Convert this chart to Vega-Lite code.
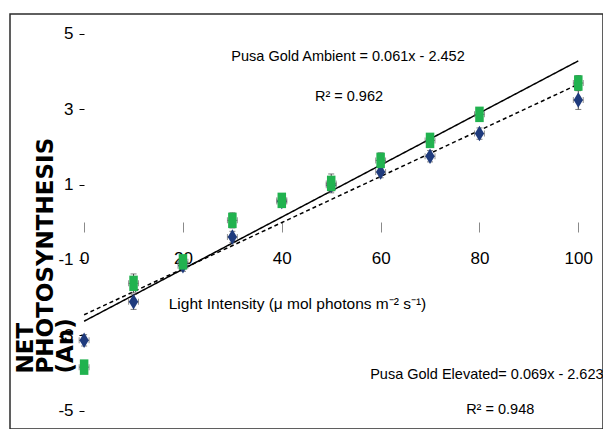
{
  "$schema": "https://vega.github.io/schema/vega-lite/v6.json",
  "width": 593,
  "height": 415,
  "autosize": {"type": "none"},
  "padding": {"left": 10, "top": 14, "right": 0, "bottom": 0},
  "background": "white",
  "config": {
    "view": {"stroke": "#2b2b2b", "strokeWidth": 1.5},
    "font": "Liberation Sans",
    "axis": {"grid": false}
  },
  "datasets": {
    "points": [
      {"series": "Ambient", "x": 0, "y": -3.13, "e": 0.15, "xe": 1},
      {"series": "Ambient", "x": 10, "y": -2.11, "e": 0.2, "xe": 1},
      {"series": "Ambient", "x": 20, "y": -1.15, "e": 0.15, "xe": 1},
      {"series": "Ambient", "x": 30, "y": -0.39, "e": 0.15, "xe": 1},
      {"series": "Ambient", "x": 40, "y": 0.55, "e": 0.15, "xe": 1},
      {"series": "Ambient", "x": 50, "y": 0.98, "e": 0.15, "xe": 1},
      {"series": "Ambient", "x": 60, "y": 1.33, "e": 0.15, "xe": 1},
      {"series": "Ambient", "x": 70, "y": 1.75, "e": 0.15, "xe": 1},
      {"series": "Ambient", "x": 80, "y": 2.35, "e": 0.15, "xe": 1},
      {"series": "Ambient", "x": 100, "y": 3.24, "e": 0.25, "xe": 1},
      {"series": "Elevated", "x": 0, "y": -3.84, "e": 0.15, "xe": 1},
      {"series": "Elevated", "x": 10, "y": -1.62, "e": 0.25, "xe": 1},
      {"series": "Elevated", "x": 20, "y": -1.05, "e": 0.15, "xe": 1},
      {"series": "Elevated", "x": 30, "y": 0.05, "e": 0.2, "xe": 1},
      {"series": "Elevated", "x": 40, "y": 0.58, "e": 0.15, "xe": 1},
      {"series": "Elevated", "x": 50, "y": 1.03, "e": 0.25, "xe": 1},
      {"series": "Elevated", "x": 60, "y": 1.64, "e": 0.2, "xe": 1},
      {"series": "Elevated", "x": 70, "y": 2.17, "e": 0.15, "xe": 1},
      {"series": "Elevated", "x": 80, "y": 2.86, "e": 0.15, "xe": 1},
      {"series": "Elevated", "x": 100, "y": 3.69, "e": 0.2, "xe": 1}
    ],
    "trend": [
      {"series": "Ambient", "x": 0, "y": -2.452},
      {"series": "Ambient", "x": 100, "y": 3.658},
      {"series": "Elevated", "x": 0, "y": -2.623},
      {"series": "Elevated", "x": 100, "y": 4.277}
    ],
    "notes": [
      {"label": "Pusa Gold Ambient = 0.061x - 2.452", "x": 53.4, "y": 4.38},
      {"label": "R² = 0.962", "x": 53.6, "y": 3.32},
      {"label": "Pusa Gold Elevated= 0.069x - 2.623", "x": 81.5, "y": -4.05},
      {"label": "R² = 0.948", "x": 84.2, "y": -4.98}
    ]
  },
  "layer": [
    {
      "data": {"name": "points"},
      "mark": {"type": "point", "opacity": 0},
      "encoding": {
        "x": {
          "field": "x", "type": "quantitative",
          "title": "Light Intensity (μ mol photons m⁻² s⁻¹)",
          "scale": {"domain": [-15, 105], "nice": false, "zero": false},
          "axis": {
            "values": [0, 20, 40, 60, 80, 100],
            "offset": -207,
            "domain": false,
            "tickSize": 10,
            "tickColor": "#8a8a8a",
            "labelPadding": 18,
            "labelFontSize": 17,
            "labelColor": "black",
            "labelOverlap": false,
            "labelFlush": false,
            "titleFontSize": 15.5,
            "titleFontWeight": "normal",
            "titleColor": "black",
            "titleX": 287,
            "titleY": 81,
            "titleBaseline": "middle"
          }
        },
        "y": {
          "field": "y", "type": "quantitative",
          "title": ["NET", "PHOTOSYNTHESIS", "(An)"],
          "scale": {"domain": [-5.48, 5.52], "nice": false, "zero": false},
          "axis": {
            "values": [-5, -3, -1, 1, 3, 5],
            "labelExpr": "replace(datum.label, '−', '-')",
            "offset": -74,
            "domain": false,
            "tickSize": 5,
            "tickColor": "black",
            "labelPadding": 6,
            "labelFontSize": 17,
            "labelColor": "black",
            "labelOverlap": false,
            "labelFlush": false,
            "titleFont": "DejaVu Sans",
            "titleFontWeight": "bold",
            "titleFontSize": 23,
            "titleLineHeight": 20,
            "titleColor": "black",
            "titleAngle": 270,
            "titleAlign": "left",
            "titleBaseline": "top",
            "titleX": -70,
            "titleY": 359
          }
        }
      }
    },
    {
      "mark": {"type": "rule", "color": "black", "strokeWidth": 2},
      "encoding": {
        "x": {"datum": 0, "type": "quantitative"},
        "x2": {"datum": 100},
        "y": {"datum": 0, "type": "quantitative"}
      }
    },
    {
      "mark": {"type": "rule", "color": "black", "strokeWidth": 1.5},
      "encoding": {
        "x": {"datum": 0, "type": "quantitative"},
        "y": {"datum": -5, "type": "quantitative"},
        "y2": {"datum": 5}
      }
    },
    {
      "data": {"name": "trend"},
      "mark": {"type": "line", "color": "black", "strokeWidth": 1.5},
      "encoding": {
        "x": {"field": "x", "type": "quantitative", "title": "Light Intensity (μ mol photons m⁻² s⁻¹)"},
        "y": {"field": "y", "type": "quantitative", "title": ["NET", "PHOTOSYNTHESIS", "(An)"]},
        "detail": {"field": "series"},
        "strokeDash": {
          "field": "series", "type": "nominal",
          "scale": {"domain": ["Ambient", "Elevated"], "range": [[4, 3], [1, 0]]},
          "legend": null
        }
      }
    },
    {
      "data": {"name": "points"},
      "mark": {"type": "errorbar", "color": "#444", "thickness": 1, "ticks": {"size": 6, "color": "#444"}},
      "encoding": {
        "x": {"field": "x", "type": "quantitative", "title": "Light Intensity (μ mol photons m⁻² s⁻¹)"},
        "y": {"field": "y", "type": "quantitative", "title": ["NET", "PHOTOSYNTHESIS", "(An)"]},
        "yError": {"field": "e"}
      }
    },
    {
      "data": {"name": "points"},
      "mark": {"type": "errorbar", "color": "#666", "thickness": 1, "ticks": {"size": 6, "color": "#666"}},
      "encoding": {
        "x": {"field": "x", "type": "quantitative", "title": "Light Intensity (μ mol photons m⁻² s⁻¹)"},
        "y": {"field": "y", "type": "quantitative", "title": ["NET", "PHOTOSYNTHESIS", "(An)"]},
        "xError": {"field": "xe"}
      }
    },
    {
      "data": {"name": "points"},
      "mark": {"type": "point", "filled": true, "opacity": 1, "size": 240},
      "encoding": {
        "x": {"field": "x", "type": "quantitative", "title": "Light Intensity (μ mol photons m⁻² s⁻¹)"},
        "y": {"field": "y", "type": "quantitative", "title": ["NET", "PHOTOSYNTHESIS", "(An)"]},
        "color": {
          "field": "series", "type": "nominal",
          "scale": {"domain": ["Ambient", "Elevated"], "range": ["#1f3b7d", "#21b24f"]},
          "legend": null
        },
        "shape": {
          "field": "series", "type": "nominal",
          "scale": {"domain": ["Ambient", "Elevated"], "range": ["M0,-1L0.6,0L0,1L-0.6,0Z", "M-0.55,-1L0.55,-1L0.55,1L-0.55,1Z"]},
          "legend": null
        }
      }
    },
    {
      "data": {"name": "notes"},
      "mark": {"type": "text", "fontSize": 14.5, "color": "black", "align": "center", "baseline": "middle"},
      "encoding": {
        "x": {"field": "x", "type": "quantitative", "title": "Light Intensity (μ mol photons m⁻² s⁻¹)"},
        "y": {"field": "y", "type": "quantitative", "title": ["NET", "PHOTOSYNTHESIS", "(An)"]},
        "text": {"field": "label"}
      }
    }
  ]
}
